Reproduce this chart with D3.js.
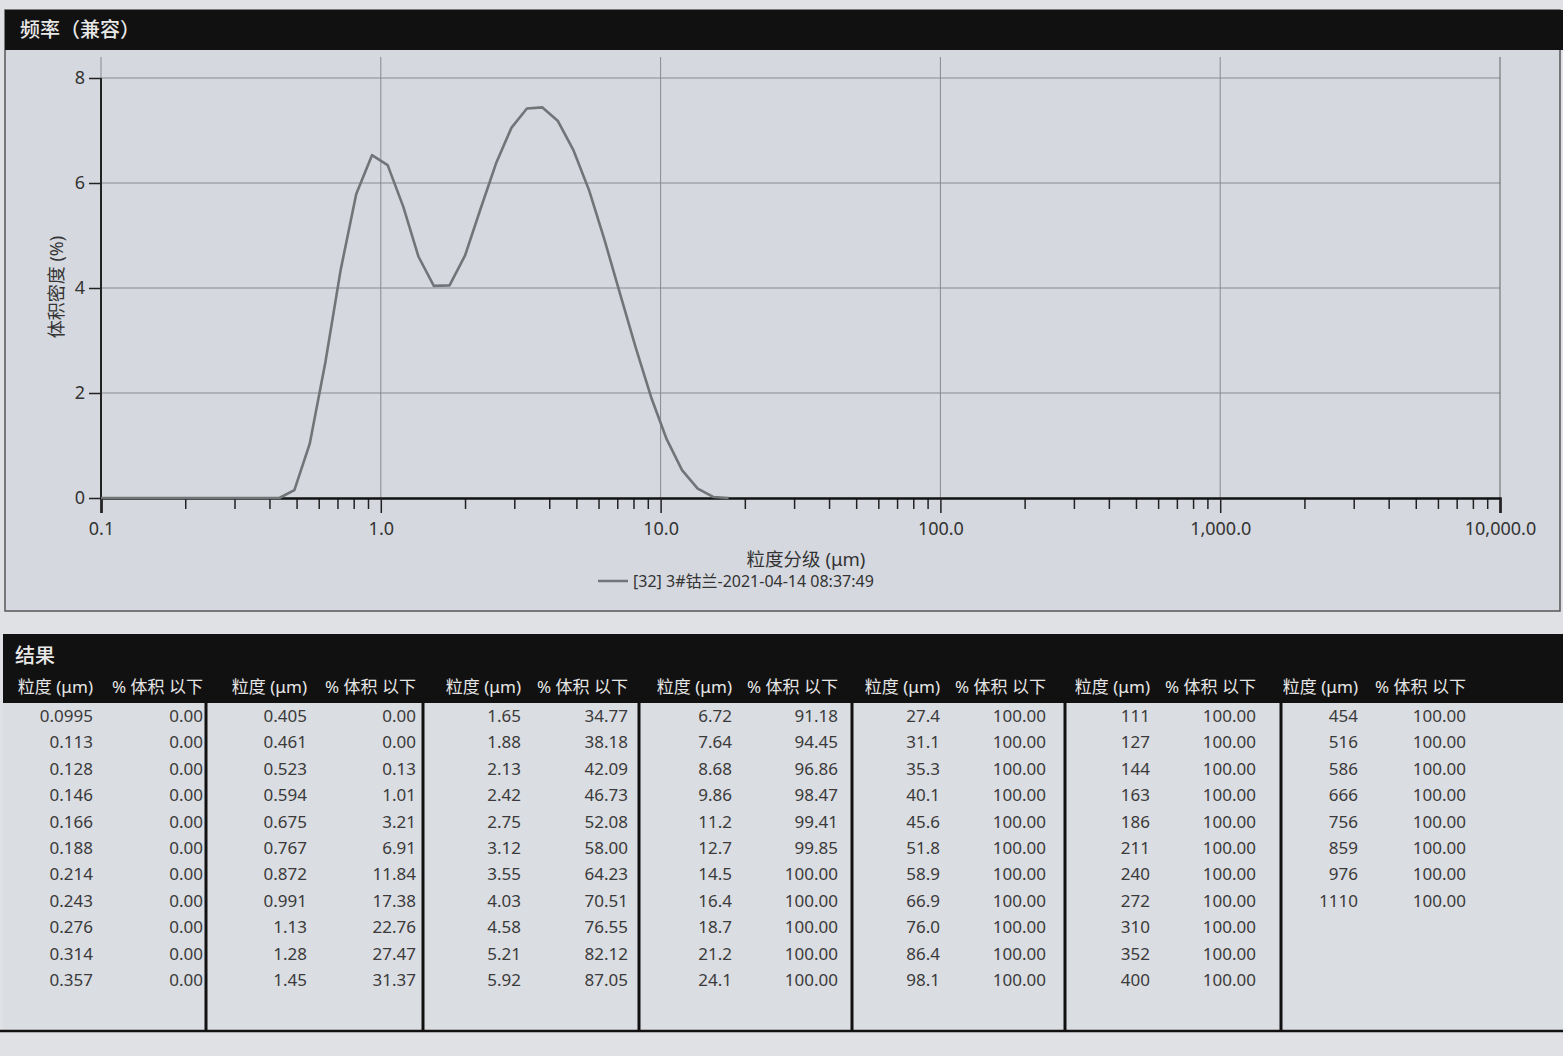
<!DOCTYPE html>
<html><head><meta charset="utf-8">
<script src="https://cdn.jsdelivr.net/npm/d3@7"></script>
<style>
html,body{margin:0;padding:0;background:#dfe1e5;}
svg{display:block;}
text{font-family:"Noto Sans","Noto Sans CJK SC",sans-serif;}
</style></head><body>
<svg id="c" width="1563" height="1056"></svg>
<script>
// ---------- data ----------
const chartTitle = "频率（兼容）";
const yAxisTitle = "体积密度 (%)";
const xAxisTitle = "粒度分级 (μm)";
const legendLabel = "[32] 3#钴兰-2021-04-14 08:37:49";
const xTickValues = [0.1, 1, 10, 100, 1000, 10000];
const xTickLabels = ["0.1", "1.0", "10.0", "100.0", "1,000.0", "10,000.0"];
const yTickValues = [0, 2, 4, 6, 8];

// density curve (size µm, volume density %)
const curveSize = [0.1, 0.2, 0.3, 0.4, 0.434, 0.491, 0.557, 0.634, 0.719, 0.817, 0.930, 1.058,
  1.203, 1.363, 1.547, 1.761, 2.001, 2.270, 2.580, 2.929, 3.328, 3.782, 4.296, 4.885,
  5.553, 6.307, 7.165, 8.144, 9.251, 10.51, 11.93, 13.57, 15.42, 17.5];
const curveDensity = [0, 0, 0, 0, 0, 0.15, 1.03, 2.59, 4.35, 5.79, 6.53, 6.34,
  5.55, 4.6, 4.04, 4.05, 4.62, 5.5, 6.37, 7.05, 7.42, 7.44, 7.18, 6.62,
  5.86, 4.91, 3.89, 2.87, 1.92, 1.12, 0.53, 0.18, 0.02, 0];

const tableTitle = "结果";
const headerSize = "粒度 (μm)";
const headerPct = "% 体积 以下";
const tableSize = [
  "0.0995","0.113","0.128","0.146","0.166","0.188","0.214","0.243","0.276","0.314","0.357",
  "0.405","0.461","0.523","0.594","0.675","0.767","0.872","0.991","1.13","1.28","1.45",
  "1.65","1.88","2.13","2.42","2.75","3.12","3.55","4.03","4.58","5.21","5.92",
  "6.72","7.64","8.68","9.86","11.2","12.7","14.5","16.4","18.7","21.2","24.1",
  "27.4","31.1","35.3","40.1","45.6","51.8","58.9","66.9","76.0","86.4","98.1",
  "111","127","144","163","186","211","240","272","310","352","400",
  "454","516","586","666","756","859","976","1110"];
const tablePct = [
  "0.00","0.00","0.00","0.00","0.00","0.00","0.00","0.00","0.00","0.00","0.00",
  "0.00","0.00","0.13","1.01","3.21","6.91","11.84","17.38","22.76","27.47","31.37",
  "34.77","38.18","42.09","46.73","52.08","58.00","64.23","70.51","76.55","82.12","87.05",
  "91.18","94.45","96.86","98.47","99.41","99.85","100.00","100.00","100.00","100.00","100.00",
  "100.00","100.00","100.00","100.00","100.00","100.00","100.00","100.00","100.00","100.00","100.00",
  "100.00","100.00","100.00","100.00","100.00","100.00","100.00","100.00","100.00","100.00","100.00",
  "100.00","100.00","100.00","100.00","100.00","100.00","100.00","100.00"];
const rowsPerGroup = 11;

// ---------- drawing ----------
const svg = d3.select("#c");
const paper = "#d5d8de";
const ink = "#333";

// chart box
svg.append("rect").attr("x", 5).attr("y", 10).attr("width", 1555).attr("height", 601)
  .attr("fill", paper).attr("stroke", "#555").attr("stroke-width", 1.5);
svg.append("rect").attr("x", 5).attr("y", 10).attr("width", 1558).attr("height", 40).attr("fill", "#111");
svg.append("text").attr("x", 20).attr("y", 37).attr("fill", "#e8e8e8")
  .attr("font-size", 20).attr("font-weight", 500).text(chartTitle);

const x = d3.scaleLog().domain([0.1, 10000]).range([101, 1500]);
const y = d3.scaleLinear().domain([0, 8.4]).range([498, 57]);

const grid = svg.append("g").attr("stroke", "#878a90").attr("stroke-width", 1);
grid.selectAll(".h").data(yTickValues.slice(1)).join("line")
  .attr("x1", x(0.1)).attr("x2", x(10000)).attr("y1", d => y(d)).attr("y2", d => y(d));
grid.selectAll(".v").data(xTickValues).join("line")
  .attr("x1", d => x(d)).attr("x2", d => x(d)).attr("y1", y(8.4)).attr("y2", y(0))
  .attr("stroke", (d, i) => i === xTickValues.length - 1 ? "#666" : "#878a90");

// y axis
const yAx = svg.append("g").attr("transform", `translate(${x(0.1)},0)`)
  .call(d3.axisLeft(y).tickValues(yTickValues).tickSize(12).tickPadding(4).tickFormat(d3.format("d")));
yAx.select(".domain").remove();
yAx.selectAll("line").attr("stroke", "#222").attr("stroke-width", 1.5);
yAx.selectAll("text").attr("font-size", 18).attr("fill", ink).attr("font-family", "Noto Sans");
svg.append("line").attr("x1", x(0.1)).attr("x2", x(0.1)).attr("y1", y(8)).attr("y2", y(0))
  .attr("stroke", "#222").attr("stroke-width", 2);

// x axis minor + major
const minor = [];
for (let e = -1; e < 4; e++) for (let m = 2; m <= 9; m++) minor.push(m * Math.pow(10, e));
const xMinor = svg.append("g").attr("transform", `translate(0,${y(0)})`)
  .call(d3.axisBottom(x).tickValues(minor).tickSize(11).tickFormat(""));
xMinor.select(".domain").remove();
xMinor.selectAll("line").attr("stroke", "#222").attr("stroke-width", 1.5);
const xMajor = svg.append("g").attr("transform", `translate(0,${y(0)})`)
  .call(d3.axisBottom(x).tickValues(xTickValues).tickSize(15).tickPadding(9)
    .tickFormat((d, i) => xTickLabels[i]));
xMajor.select(".domain").attr("stroke", "#111").attr("stroke-width", 2.5);
xMajor.selectAll("line").attr("stroke", "#222").attr("stroke-width", 1.5);
xMajor.selectAll("text").attr("font-size", 18).attr("fill", ink).attr("font-family", "Noto Sans");

// curve
const line = d3.line().x((d, i) => x(curveSize[i])).y(d => y(d));
svg.append("path").datum(curveDensity).attr("d", line)
  .attr("fill", "none").attr("stroke", "#727478").attr("stroke-width", 2.6).attr("stroke-linejoin", "round");

// titles
svg.append("text").attr("x", 806).attr("y", 566).attr("text-anchor", "middle")
  .attr("font-size", 18.5).attr("fill", ink).text(xAxisTitle);
svg.append("text").attr("transform", "translate(63,287) rotate(-90)").attr("text-anchor", "middle")
  .attr("font-size", 18).attr("fill", ink).text(yAxisTitle);
svg.append("line").attr("x1", 598).attr("x2", 628).attr("y1", 581).attr("y2", 581)
  .attr("stroke", "#727478").attr("stroke-width", 2.5);
svg.append("text").attr("x", 633).attr("y", 587).attr("font-size", 16).attr("fill", ink).text(legendLabel);

// ---------- table ----------
const groupEdges = [5, 206, 423, 639, 852, 1065, 1281, 1563];
const sizeRight = [93, 307, 521, 732, 940, 1150, 1358];
const pctRight = [203, 416, 628, 838, 1046, 1256, 1466];
svg.append("rect").attr("x", 3).attr("y", 634).attr("width", 1560).attr("height", 398).attr("fill", "#dadde2");
svg.append("rect").attr("x", 3).attr("y", 634).attr("width", 1560).attr("height", 69).attr("fill", "#111");
svg.append("text").attr("x", 15).attr("y", 663).attr("fill", "#e8e8e8").attr("font-size", 20)
  .attr("font-weight", 500).text(tableTitle);
svg.append("line").attr("x1", 0).attr("x2", 1563).attr("y1", 1031).attr("y2", 1031)
  .attr("stroke", "#111").attr("stroke-width", 2.5);

const groups = d3.range(groupEdges.length - 1);
svg.selectAll(".sep").data(groups.slice(1)).join("line")
  .attr("x1", g => groupEdges[g]).attr("x2", g => groupEdges[g])
  .attr("y1", 672).attr("y2", 1031).attr("stroke", "#111").attr("stroke-width", 3);

groups.forEach(g => {
  const hg = svg.append("g").attr("fill", "#e6e6e6").attr("font-size", 17).attr("text-anchor", "end");
  hg.append("text").attr("x", sizeRight[g]).attr("y", 693).text(headerSize);
  hg.append("text").attr("x", pctRight[g]).attr("y", 693).text(headerPct);
  const sz = tableSize.slice(g * rowsPerGroup, (g + 1) * rowsPerGroup);
  const pc = tablePct.slice(g * rowsPerGroup, (g + 1) * rowsPerGroup);
  const dg = svg.append("g").attr("fill", "#3a3a3a").attr("font-size", 17).attr("text-anchor", "end");
  dg.selectAll(".s").data(sz).join("text").attr("x", sizeRight[g]).attr("y", (d, i) => 722 + i * 26.4).text(d => d);
  dg.selectAll(".p").data(pc).join("text").attr("x", pctRight[g]).attr("y", (d, i) => 722 + i * 26.4).text(d => d);
});
</script>
</body></html>
